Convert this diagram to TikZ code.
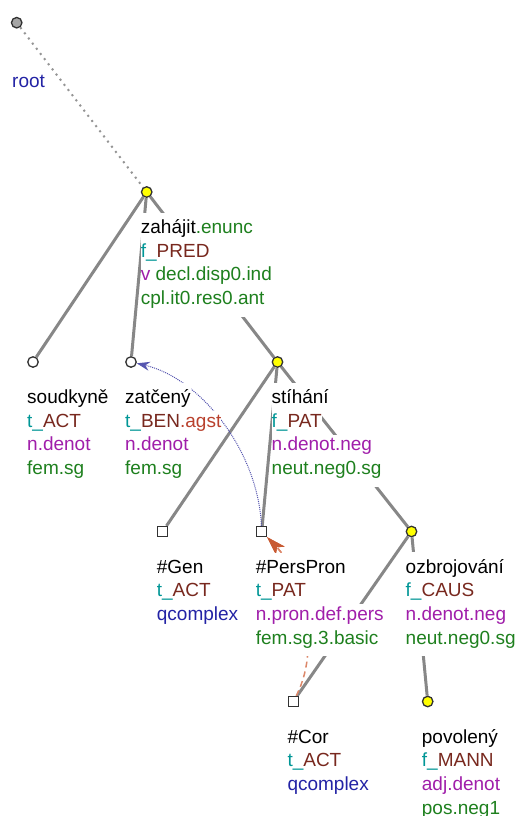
\documentclass[tikz,border=0pt]{standalone}
\usepackage{fontspec}
\setmainfont{Liberation Sans}
\usetikzlibrary{arrows.meta,calc}
\pgfdeclarelayer{edges}
\pgfdeclarelayer{labels}
\pgfsetlayers{edges,labels,main}
\definecolor{fgreen}{RGB}{30,128,30}
\definecolor{fteal}{RGB}{0,150,150}
\definecolor{fbrown}{RGB}{120,40,30}
\definecolor{fpurple}{RGB}{160,30,170}
\definecolor{fblue}{RGB}{35,35,165}
\definecolor{fred}{RGB}{185,65,45}
\definecolor{edgegray}{RGB}{135,135,135}
\definecolor{arrblue}{RGB}{85,85,175}
\definecolor{arrred}{RGB}{200,90,50}
\definecolor{dashred}{RGB}{220,135,105}
\definecolor{nodeyellow}{RGB}{255,255,0}
\definecolor{outline}{RGB}{50,50,50}
\tikzset{
  lab/.style={anchor=base west,fill=white,inner sep=0pt,text=black,
    font=\fontsize{19}{23}\selectfont,text height=16pt,text depth=8pt},
  first/.style={text height=21pt},
  last/.style={text depth=12pt},
  mid/.style={},
  wnode/.style={circle,draw=outline,line width=1.3pt,fill=white,minimum size=10.5pt,inner sep=0pt},
  ynode/.style={circle,draw=outline,line width=1.3pt,fill=nodeyellow,minimum size=10.5pt,inner sep=0pt},
  rootnode/.style={circle,draw=outline,line width=1.3pt,fill=black!35,minimum size=10.5pt,inner sep=0pt},
  snode/.style={rectangle,draw=outline,line width=1.3pt,fill=white,minimum size=10pt,inner sep=0pt},
  edge/.style={draw=edgegray,line width=3pt},
  rootedge/.style={draw=black!42,line width=2pt,dash pattern=on 2pt off 4.5pt},
  corefblue/.style={draw=arrblue,line width=1pt,dash pattern=on 1pt off 1pt,
    -{Stealth[length=13pt,width=9pt,color=arrblue,fill=arrblue]}},
  corefred/.style={draw=dashred,line width=1.5pt,dash pattern=on 6pt off 4pt,
    -{Stealth[length=19pt,width=12pt,inset=5pt,color=arrred,fill=arrred]}}
}
\newcommand{\lbl}[5]{\node[lab,#4] (#1-#3) at ($(#2)+(-6,{41.5+23.7*#3})$) {#5};}
\begin{document}
\begin{tikzpicture}[x=1pt,y=-1pt]
\useasboundingbox (0,0) rectangle (519,816);
% tree nodes
\node[rootnode] (nroot) at (16.7,22.7) {};
\node[ynode] (nzah) at (146.7,192) {};
\node[wnode] (nsou) at (33,362) {};
\node[wnode] (nzat) at (131,362) {};
\node[ynode] (nsti) at (277.5,362) {};
\node[snode] (ngen) at (162.7,531.5) {};
\node[snode] (npp) at (261.7,531.5) {};
\node[ynode] (nozb) at (411.5,531.5) {};
\node[snode] (ncor) at (293.3,701.5) {};
\node[ynode] (npov) at (427.7,701.5) {};
% edges and coreference arrows
\begin{pgfonlayer}{edges}
\draw[rootedge] (nroot) -- (nzah);
\draw[edge] (nzah) -- (nsou);
\draw[edge] (nzah) -- (nzat);
\draw[edge] (nzah) -- (nsti);
\draw[edge] (nsti) -- (ngen);
\draw[edge] (nsti) -- (npp);
\draw[edge] (nsti) -- (nozb);
\draw[edge] (nozb) -- (ncor);
\draw[edge] (nozb) -- (npov);
\draw[corefred] (ncor) .. controls (325,640) and (295,566) .. (npp);
\draw[corefblue] (npp) .. controls (258,450) and (200,378) .. (nzat);
\end{pgfonlayer}
% labels
\begin{pgfonlayer}{labels}
\node[lab,text=fblue] (root-1) at (12,87) {root};
\lbl{zah}{nzah}{0}{first}{zahájit{\color{fgreen}.enunc}}
\lbl{zah}{nzah}{1}{mid}{{\color{fteal}f\_}{\color{fbrown}PRED}}
\lbl{zah}{nzah}{2}{mid}{{\color{fpurple}v} {\color{fgreen}decl.disp0.ind}}
\lbl{zah}{nzah}{3}{last}{{\color{fgreen}cpl.it0.res0.ant}}
\lbl{sou}{nsou}{0}{first}{soudkyně}
\lbl{sou}{nsou}{1}{mid}{{\color{fteal}t\_}{\color{fbrown}ACT}}
\lbl{sou}{nsou}{2}{mid}{{\color{fpurple}n.denot}}
\lbl{sou}{nsou}{3}{last}{{\color{fgreen}fem.sg}}
\lbl{zat}{nzat}{0}{first}{zatčený}
\lbl{zat}{nzat}{1}{mid}{{\color{fteal}t\_}{\color{fbrown}BEN}{\color{fred}.agst}}
\lbl{zat}{nzat}{2}{mid}{{\color{fpurple}n.denot}}
\lbl{zat}{nzat}{3}{last}{{\color{fgreen}fem.sg}}
\lbl{sti}{nsti}{0}{first}{stíhání}
\lbl{sti}{nsti}{1}{mid}{{\color{fteal}f\_}{\color{fbrown}PAT}}
\lbl{sti}{nsti}{2}{mid}{{\color{fpurple}n.denot.neg}}
\lbl{sti}{nsti}{3}{last}{{\color{fgreen}neut.neg0.sg}}
\lbl{gen}{ngen}{0}{first}{\#Gen}
\lbl{gen}{ngen}{1}{mid}{{\color{fteal}t\_}{\color{fbrown}ACT}}
\lbl{gen}{ngen}{2}{last}{{\color{fblue}qcomplex}}
\lbl{pp}{npp}{0}{first}{\#PersPron}
\lbl{pp}{npp}{1}{mid}{{\color{fteal}t\_}{\color{fbrown}PAT}}
\lbl{pp}{npp}{2}{mid}{{\color{fpurple}n.pron.def.pers}}
\lbl{pp}{npp}{3}{last}{{\color{fgreen}fem.sg.3.basic}}
\lbl{ozb}{nozb}{0}{first}{ozbrojování}
\lbl{ozb}{nozb}{1}{mid}{{\color{fteal}f\_}{\color{fbrown}CAUS}}
\lbl{ozb}{nozb}{2}{mid}{{\color{fpurple}n.denot.neg}}
\lbl{ozb}{nozb}{3}{last}{{\color{fgreen}neut.neg0.sg}}
\lbl{cor}{ncor}{0}{first}{\#Cor}
\lbl{cor}{ncor}{1}{mid}{{\color{fteal}t\_}{\color{fbrown}ACT}}
\lbl{cor}{ncor}{2}{last}{{\color{fblue}qcomplex}}
\lbl{pov}{npov}{0}{first}{povolený}
\lbl{pov}{npov}{1}{mid}{{\color{fteal}f\_}{\color{fbrown}MANN}}
\lbl{pov}{npov}{2}{mid}{{\color{fpurple}adj.denot}}
\lbl{pov}{npov}{3}{last}{{\color{fgreen}pos.neg1}}
\end{pgfonlayer}
% arrowhead of the red coreference arrow stays on top of the label box
\begin{scope}
\clip (240,515) rectangle (300,552);
\draw[corefred] (ncor) .. controls (325,640) and (295,566) .. (npp);
\end{scope}
\end{tikzpicture}
\end{document}
